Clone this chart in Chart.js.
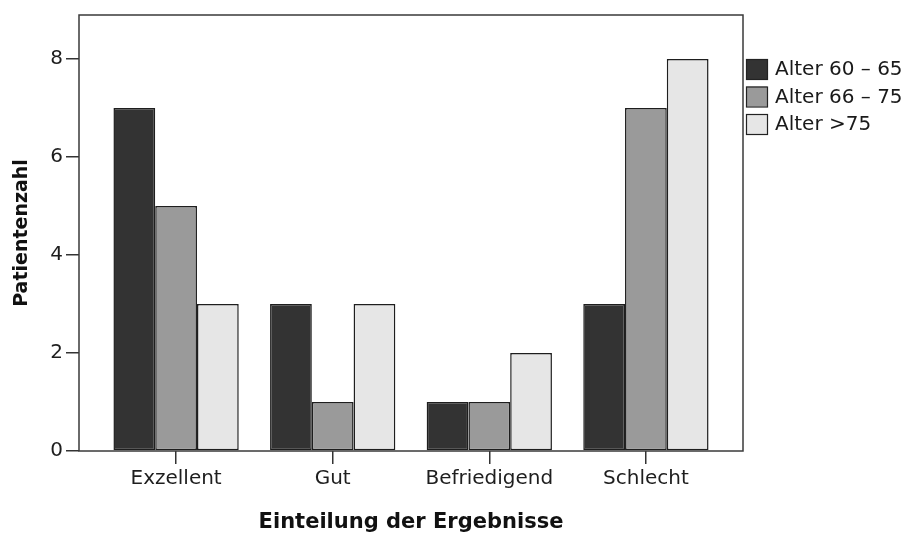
<!DOCTYPE html>
<html>
<head>
<meta charset="utf-8">
<script src="https://cdn.jsdelivr.net/npm/chart.js@4/dist/chart.umd.min.js"></script>
<style>
  html, body { margin: 0; padding: 0; background: #fff; }
  #wrap { width: 924px; height: 535px; }
</style>
</head>
<body>
<div id="wrap"><canvas id="grafico"></canvas></div>
<script>
// Werte
const kategorien = ['Exzellent', 'Gut', 'Befriedigend', 'Schlecht'];
const alter60bis65 = [7, 3, 1, 3];
const alter66bis75 = [5, 1, 1, 7];
const alterUeber75 = [3, 3, 2, 8];
const yTicks = [0, 2, 4, 6, 8];

const schrift = 'DejaVu Sans';

// x als lineare Achse, damit links/rechts Luft im Rahmen bleibt wie im Original
const punkte = (werte) => werte.map((v, i) => ({ x: i, y: v }));

// Rahmen um den Plotbereich
const rahmen = {
  id: 'rahmen',
  afterDraw(chart) {
    const { ctx, chartArea: a } = chart;
    ctx.save();
    ctx.strokeStyle = '#3a3a3a';
    ctx.lineWidth = 1.5;
    ctx.strokeRect(a.left, a.top, a.right - a.left, a.bottom - a.top);
    ctx.restore();
  },
};

// Legende rechts oben neben dem Rahmen
const legende = {
  id: 'legende',
  afterDraw(chart) {
    const { ctx, chartArea: a } = chart;
    const x = a.right + 3;
    let y = 59;
    ctx.save();
    ctx.font = `20px "${schrift}"`;
    ctx.textBaseline = 'middle';
    chart.data.datasets.forEach((ds) => {
      ctx.fillStyle = ds.backgroundColor;
      ctx.fillRect(x, y, 21, 20);
      ctx.strokeStyle = '#222';
      ctx.lineWidth = 1.2;
      ctx.strokeRect(x + 0.5, y + 0.5, 21, 20);
      ctx.fillStyle = '#1a1a1a';
      ctx.fillText(ds.label, x + 29, y + 11);
      y += 27.5;
    });
    ctx.restore();
  },
};

new Chart(document.getElementById('grafico'), {
  type: 'bar',
  data: {
    datasets: [
      { label: 'Alter 60 – 65', data: punkte(alter60bis65), backgroundColor: '#333333' },
      { label: 'Alter 66 – 75', data: punkte(alter66bis75), backgroundColor: '#9a9a9a' },
      { label: 'Alter >75', data: punkte(alterUeber75), backgroundColor: '#e6e6e6' },
    ],
  },
  options: {
    responsive: true,
    maintainAspectRatio: false,
    animation: false,
    layout: { padding: { top: 14, right: 181, left: 0, bottom: 0 } },
    datasets: {
      bar: {
        borderColor: '#1e1e1e',
        borderWidth: 1.5,
        borderSkipped: false,
        categoryPercentage: 0.8,
        barPercentage: 1.0,
      },
    },
    plugins: {
      legend: { display: false },
      tooltip: { enabled: false },
    },
    scales: {
      x: {
        type: 'linear',
        min: -0.62,
        max: 3.62,
        offset: false,
        afterBuildTicks: (s) => { s.ticks = kategorien.map((_, i) => ({ value: i })); },
        afterFit: (s) => { s.height = 84; },
        grid: { offset: false, drawOnChartArea: false, drawTicks: true, tickLength: 13, color: '#333', lineWidth: 1.5 },
        border: { display: false },
        ticks: {
          callback: (v) => kategorien[v],
          color: '#1e1e1e',
          padding: 3,
          maxRotation: 0,
          autoSkip: false,
          font: { family: schrift, size: 20 },
        },
        title: {
          display: true,
          text: 'Einteilung der Ergebnisse',
          color: '#111',
          padding: { top: 3, bottom: 0 },
          font: { family: schrift, size: 21, weight: 'bold' },
        },
      },
      y: {
        min: 0,
        max: 8.9,
        afterBuildTicks: (s) => { s.ticks = yTicks.map((v) => ({ value: v })); },
        afterFit: (s) => { s.width = 79; },
        grid: { drawOnChartArea: false, drawTicks: true, tickLength: 13, color: '#333', lineWidth: 1.5 },
        border: { display: false },
        ticks: {
          color: '#1e1e1e',
          padding: 3,
          font: { family: schrift, size: 20 },
        },
        title: {
          display: true,
          text: 'Patientenzahl',
          color: '#111',
          padding: { top: 11, bottom: 0 },
          font: { family: schrift, size: 19, weight: 'bold' },
        },
      },
    },
  },
  plugins: [rahmen, legende],
});
</script>
</body>
</html>
